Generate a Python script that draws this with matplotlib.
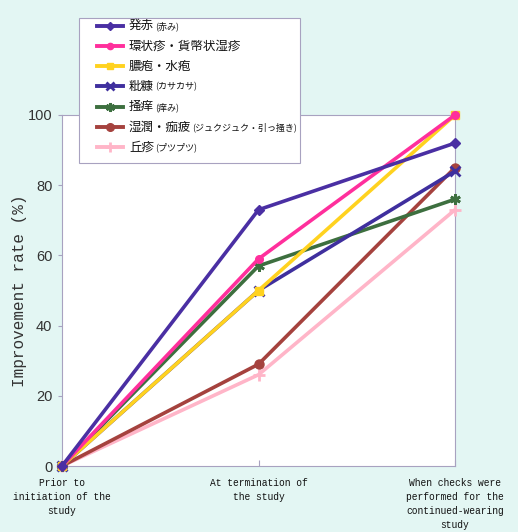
import matplotlib
matplotlib.use("Agg")
import matplotlib.pyplot as plt
from matplotlib.lines import Line2D
from matplotlib.patches import Rectangle

# ---- data ----
stages = ["Prior to\ninitiation of the\nstudy",
          "At termination of\nthe study",
          "When checks were\nperformed for the\ncontinued-wearing\nstudy"]
names = ["発赤", "環状疹・貨幣状湿疹", "膿疱・水疱", "粃糠", "掻痒", "湿潤・痂疲", "丘疹"]
notes = ["(赤み)", "", "", "(カサカサ)", "(痒み)", "(ジュクジュク・引っ掻き)", "(プツプツ)"]
redness = [0, 73, 92]
annular = [0, 59, 100]
pustule = [0, 50, 100]
scaling = [0, 50, 84]
itching = [0, 57, 76]
oozing = [0, 29, 85]
papule = [0, 26, 73]
series = [redness, annular, pustule, scaling, itching, oozing, papule]
yticks = [0, 20, 40, 60, 80, 100]

colors = ["#4a2fa3", "#ff2f9c", "#ffd21f", "#3f2f9e", "#3d6f3f", "#a5423e", "#ffb5c8"]
markers = ["D", "o", "s", "x", (6, 2, 0), "o", "+"]
msizes = [5.5, 5.5, 5.5, 6.5, 7.5, 6.5, 8]

bg = "#e3f6f3"
W, H = 518, 532
fig = plt.figure(figsize=(W / 100, H / 100), dpi=100, facecolor=bg)
ax = fig.add_axes([62 / W, 1 - 466 / H, (455 - 62) / W, (466 - 115) / H])
ax.set_facecolor("white")

order = [6, 5, 4, 3, 2, 1, 0]
x = list(range(len(stages)))
for i in order:
    ax.plot(x, series[i], color=colors[i], lw=2.6, marker=markers[i],
            ms=msizes[i], mew=2 if markers[i] in ("x", "+", (6, 2, 0)) else 1,
            mec=colors[i], mfc=colors[i], clip_on=False, zorder=3 + (7 - i) * 0.1)

ax.set_xlim(0, 2)
ax.set_ylim(0, 100)
ax.set_yticks(yticks)
ax.set_xticks(x)
ax.set_xticklabels([])
for s in ax.spines.values():
    s.set_color("#a8a2c0")
    s.set_linewidth(0.8)
ax.tick_params(axis="y", direction="out", length=3, color="#a8a2c0", pad=4,
               labelsize=10.5, labelcolor="#333333")
ax.tick_params(axis="x", direction="in", length=4, color="#a8a2c0")
for lab in ax.get_yticklabels():
    lab.set_family(["Liberation Sans Narrow", "Liberation Sans"])

mono = ["Liberation Mono", "DejaVu Sans Mono"]
for xi, s in zip(x, stages):
    ax.annotate(s, xy=(xi, 0), xycoords="data", xytext=(0, -8.5),
                textcoords="offset points", ha="center", va="top",
                fontsize=6.9, family=mono, color="#111111", linespacing=1.5)

fig.text(20 / W, 1 - 291 / H, "Improvement rate (%)", rotation=90,
         fontsize=11.5, family=mono, color="#333333", ha="center", va="center")

# ---- legend (manual) ----
def fx(px):
    return px / W

def fy(py):
    return 1 - py / H

fig.add_artist(Rectangle((fx(79), fy(163)), fx(300) - fx(79), fy(18) - fy(163),
                         transform=fig.transFigure, facecolor="white",
                         edgecolor="#a8a2c0", lw=0.8, zorder=10))
jp = ["Noto Sans CJK JP", "DejaVu Sans"]
fig.canvas.draw()
r = fig.canvas.get_renderer()
for i in range(len(names)):
    yy = 25.5 + 20.3 * i
    fig.add_artist(Line2D([fx(97), fx(123)], [fy(yy), fy(yy)],
                          transform=fig.transFigure, color=colors[i], lw=2.8,
                          zorder=11))
    fig.add_artist(Line2D([fx(110)], [fy(yy)], transform=fig.transFigure,
                          color=colors[i], marker=markers[i], ms=msizes[i] - 1,
                          mew=2 if markers[i] in ("x", "+", (6, 2, 0)) else 1,
                          zorder=12))
    t = fig.text(fx(129), fy(yy), names[i], fontsize=9, family=jp,
                 ha="left", va="center", color="#111111", zorder=12)
    if notes[i]:
        bb = t.get_window_extent(renderer=r)
        fig.text(bb.x1 / W + 1.0 / W, fy(yy + 0.5), notes[i], fontsize=6.5,
                 family=jp, ha="left", va="center", color="#111111", zorder=12)

fig.savefig("out.png", dpi=100, facecolor=bg)
